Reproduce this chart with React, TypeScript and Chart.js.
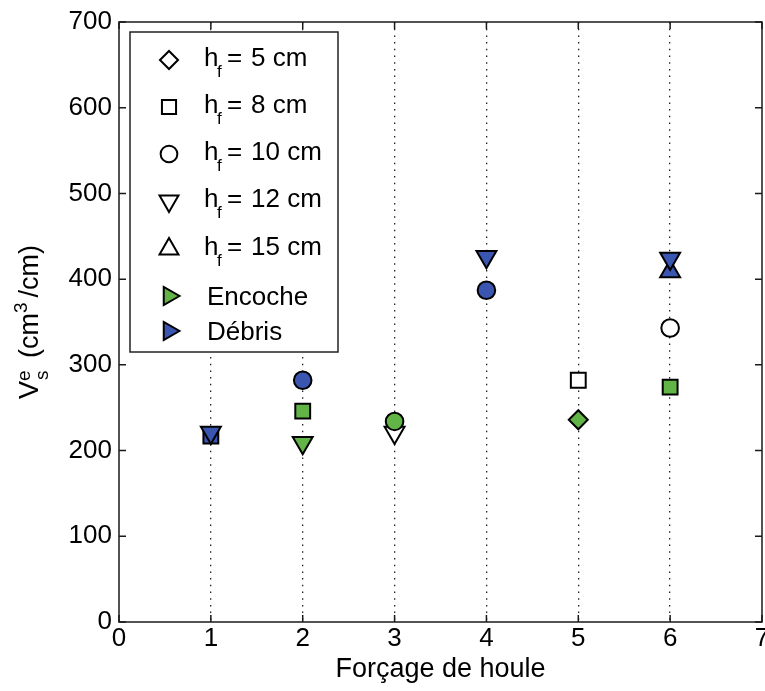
import React, { useEffect, useRef } from 'react';
import { Chart, registerables } from 'chart.js';
import { drawPoint } from 'chart.js/helpers';

Chart.register(...registerables);

// ---- data ----
const forcing = [1, 2, 3, 4, 5, 6];
const xMin = 0;
const xMax = 7;
const yMin = 0;
const yMax = 700;
const xStep = 1;
const yStep = 100;

// Débris (blue filled)
const debrisHf8 = [217, null, null, null, null, null];
const debrisHf10 = [null, 282, null, 387, null, null];
const debrisHf12 = [221, null, null, 426, null, 424];
const debrisHf15 = [null, null, null, null, null, 409];
// Encoche (green filled)
const encocheHf5 = [null, null, null, null, 236, null];
const encocheHf8 = [null, 246, null, null, null, 274];
const encocheHf10 = [null, null, 234, null, null, null];
const encocheHf12 = [null, 209, null, null, null, null];
// open markers
const openHf8 = [null, null, null, null, 282, null];
const openHf10 = [null, null, null, null, null, 343];
const openHf12 = [null, null, 221, null, null, null];

const hfValues = ['5', '8', '10', '12', '15'];
const stateLabels = ['Encoche', 'Débris'];
const xTitle = 'Forçage de houle';

// ---- styles ----
const FONT = '"Liberation Sans", Arial, Helvetica, sans-serif';
const GREEN = '#62B447';
const BLUE = '#3A56B0';
const WHITE = '#FFFFFF';
const EDGE = '#000000';

const markerByHf: Record<string, { pointStyle: any; radius: number; rotation: number }> = {
  '5': { pointStyle: 'rectRot', radius: 9.5, rotation: 0 },
  '8': { pointStyle: 'rect', radius: 10.5, rotation: 0 },
  '10': { pointStyle: 'circle', radius: 8.8, rotation: 0 },
  '12': { pointStyle: 'triangle', radius: 11.5, rotation: 180 },
  '15': { pointStyle: 'triangle', radius: 11.5, rotation: 0 },
};

function toPoints(arr: (number | null)[]) {
  const out: { x: number; y: number }[] = [];
  forcing.forEach((x, i) => {
    const v = arr[i];
    if (v !== null && v !== undefined) out.push({ x, y: v });
  });
  return out;
}

function ds(label: string, arr: (number | null)[], hf: string, color: string) {
  const m = markerByHf[hf];
  return {
    label,
    data: toPoints(arr),
    showLine: false,
    pointStyle: m.pointStyle,
    pointRadius: m.radius,
    pointHoverRadius: m.radius,
    pointRotation: m.rotation,
    pointBackgroundColor: color,
    pointBorderColor: EDGE,
    pointBorderWidth: 2,
    backgroundColor: color,
    borderColor: EDGE,
  };
}

const datasets = [
  ds('Débris hf=12', debrisHf12, '12', BLUE),
  ds('Débris hf=15', debrisHf15, '15', BLUE),
  ds('Débris hf=10', debrisHf10, '10', BLUE),
  ds('Débris hf=8', debrisHf8, '8', BLUE),
  ds('Encoche hf=10', encocheHf10, '10', GREEN),
  ds('Encoche hf=5', encocheHf5, '5', GREEN),
  ds('Encoche hf=8', encocheHf8, '8', GREEN),
  ds('Encoche hf=12', encocheHf12, '12', GREEN),
  ds('hf=8', openHf8, '8', WHITE),
  ds('hf=10', openHf10, '10', WHITE),
  ds('hf=12', openHf12, '12', WHITE),
];

// ---- custom drawing plugin: frame, inward ticks, legend, axis titles ----
const decorPlugin = {
  id: 'decor',
  afterDatasetsDraw(chart: any) {
    const ctx: CanvasRenderingContext2D = chart.ctx;
    const area = chart.chartArea;
    const xs = chart.scales.x;
    const ys = chart.scales.y;
    ctx.save();

    // frame
    ctx.strokeStyle = '#1a1a1a';
    ctx.lineWidth = 1.5;
    ctx.strokeRect(area.left, area.top, area.right - area.left, area.bottom - area.top);

    // inward ticks
    const tl = 7;
    ctx.lineWidth = 1.5;
    ctx.beginPath();
    xs.ticks.forEach((t: any) => {
      const px = xs.getPixelForValue(t.value);
      ctx.moveTo(px, area.bottom);
      ctx.lineTo(px, area.bottom - tl);
      ctx.moveTo(px, area.top);
      ctx.lineTo(px, area.top + tl);
    });
    ys.ticks.forEach((t: any) => {
      const py = ys.getPixelForValue(t.value);
      ctx.moveTo(area.left, py);
      ctx.lineTo(area.left + tl, py);
      ctx.moveTo(area.right, py);
      ctx.lineTo(area.right - tl, py);
    });
    ctx.stroke();

    // legend
    const lx = 130, ly = 32, lw = 208, lh = 320;
    ctx.fillStyle = '#fff';
    ctx.fillRect(lx, ly, lw, lh);
    ctx.strokeStyle = '#222';
    ctx.lineWidth = 1.5;
    ctx.strokeRect(lx, ly, lw, lh);

    const mx = 169;
    const hfRows = [60, 107, 154, 201, 249];
    const stateRows = [296, 331];
    ctx.textBaseline = 'alphabetic';
    ctx.textAlign = 'left';
    hfValues.forEach((hf, i) => {
      const cy = hfRows[i];
      const m = markerByHf[hf];
      ctx.fillStyle = WHITE;
      ctx.strokeStyle = EDGE;
      ctx.lineWidth = 2;
      drawPoint(ctx, { pointStyle: m.pointStyle, rotation: m.rotation, radius: m.radius * 0.95, borderWidth: 2 } as any, mx, cy);
      ctx.fillStyle = '#000';
      ctx.font = `26px ${FONT}`;
      ctx.fillText('h', 204, cy + 6);
      ctx.font = `17px ${FONT}`;
      ctx.fillText('f', 217, cy + 17);
      ctx.font = `26px ${FONT}`;
      ctx.fillText('=', 227, cy + 6);
      ctx.fillText(`${hf} cm`, 251, cy + 6);
    });
    stateLabels.forEach((lab, i) => {
      const cy = stateRows[i];
      ctx.fillStyle = i === 0 ? GREEN : BLUE;
      ctx.strokeStyle = EDGE;
      ctx.lineWidth = 2;
      drawPoint(ctx, { pointStyle: 'triangle', rotation: 90, radius: 10.5, borderWidth: 2 } as any, mx, cy);
      ctx.fillStyle = '#000';
      ctx.font = `26px ${FONT}`;
      ctx.fillText(lab, 207, cy + 9);
    });

    // x title
    ctx.font = `27px ${FONT}`;
    ctx.textAlign = 'center';
    ctx.fillText(xTitle, (area.left + area.right) / 2, 677);

    // y title (rotated) V^e_s (cm^3/cm)
    const big = `27px ${FONT}`;
    const small = `19px ${FONT}`;
    ctx.translate(38, (area.top + area.bottom) / 2);
    ctx.rotate(-Math.PI / 2);
    ctx.textAlign = 'left';
    const w = (f: string, s: string) => { ctx.font = f; return ctx.measureText(s).width; };
    const gap = 5;
    const parts = [
      { w: w(big, 'V') },
      { w: Math.max(w(small, 'e'), w(small, 's')) + gap },
      { w: w(big, ' (cm') },
      { w: w(small, '3') + gap },
      { w: w(big, '/cm)') },
    ];
    const total = parts.reduce((a, p) => a + p.w, 0);
    let x = -total / 2;
    ctx.font = big; ctx.fillText('V', x, 0); x += parts[0].w;
    ctx.font = small; ctx.fillText('e', x, -8); ctx.fillText('s', x + 1, 10); x += parts[1].w;
    ctx.font = big; ctx.fillText(' (cm', x, 0); x += parts[2].w;
    ctx.font = small; ctx.fillText('3', x, -11); x += parts[3].w;
    ctx.font = big; ctx.fillText('/cm)', x, 0);

    ctx.restore();
  },
};

export default function App() {
  const ref = useRef<HTMLCanvasElement>(null);
  useEffect(() => {
    document.body.style.margin = '0';
    const chart = new Chart(ref.current as HTMLCanvasElement, {
      type: 'scatter',
      data: { datasets: datasets as any },
      options: {
        animation: false,
        responsive: false,
        devicePixelRatio: 1,
        layout: { autoPadding: false, padding: { top: 22, right: 3, bottom: 0, left: 0 } },
        plugins: { legend: { display: false }, tooltip: { enabled: false } },
        scales: {
          x: {
            type: 'linear',
            min: xMin,
            max: xMax,
            afterFit: (s: any) => {
              s.height = 69;
              s.paddingLeft = 0;
              s.paddingRight = 0;
            },
            grid: {
              display: true,
              drawTicks: false,
              lineWidth: 1.3,
              color: (c: any) =>
                c.tick && (c.tick.value === xMin || c.tick.value === xMax) ? 'rgba(0,0,0,0)' : '#222',
            },
            border: { display: false, dash: [1.5, 5.2] },
            ticks: {
              stepSize: xStep,
              autoSkip: false,
              maxRotation: 0,
              padding: 4,
              color: '#000',
              font: { family: FONT, size: 26, lineHeight: 1 },
            },
          },
          y: {
            type: 'linear',
            min: yMin,
            max: yMax,
            afterFit: (s: any) => {
              s.width = 119;
              s.paddingTop = 0;
              s.paddingBottom = 0;
            },
            grid: { display: false, drawTicks: false },
            border: { display: false },
            ticks: {
              stepSize: yStep,
              padding: 7,
              color: '#000',
              font: { family: FONT, size: 26, lineHeight: 1 },
            },
          },
        },
      },
      plugins: [decorPlugin],
    } as any);
    return () => chart.destroy();
  }, []);
  return (
    <div style={{ width: 765, height: 691 }}>
      <canvas ref={ref} width={765} height={691} style={{ display: 'block', width: 765, height: 691 }} />
    </div>
  );
}
